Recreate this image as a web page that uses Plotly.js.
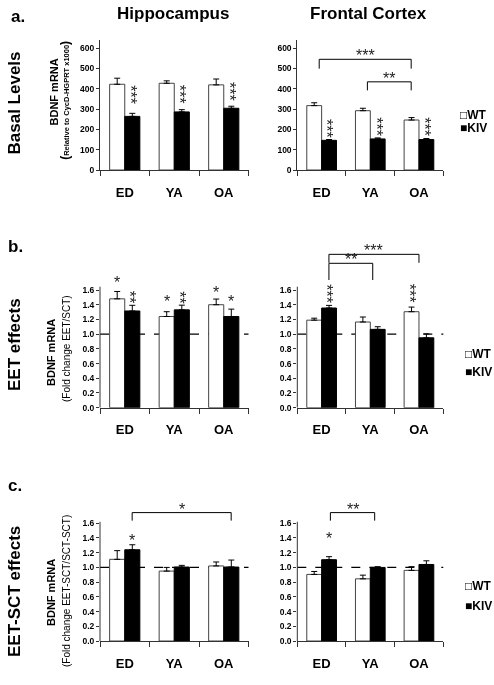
<!DOCTYPE html>
<html>
<head>
<meta charset="utf-8">
<script src="https://cdn.plot.ly/plotly-3.0.1.min.js"></script>
<style>html,body{margin:0;padding:0;background:#fff;}#chart{width:494px;height:685px;filter:grayscale(100%);}</style>
</head>
<body>
<div id="chart"></div>
<script>
// ---------- data ----------
const groups = ['ED', 'YA', 'OA'];
const seriesNames = ['WT', 'KIV'];

// a. Basal levels (relative to CycD-HGPRT x1000)
const hipBasalWT = [422, 427, 419];
const hipBasalWTErr = [30, 12, 29];
const hipBasalKIV = [264, 286, 304];
const hipBasalKIVErr = [15, 11, 10];
const fcBasalWT = [317, 292, 246];
const fcBasalWTErr = [14, 12, 12];
const fcBasalKIV = [146, 153, 150];
const fcBasalKIVErr = [4, 5, 5];

// b. EET effects (fold change EET/SCT)
const hipEetWT = [1.48, 1.24, 1.40];
const hipEetWTErr = [0.10, 0.065, 0.077];
const hipEetKIV = [1.315, 1.33, 1.24];
const hipEetKIVErr = [0.077, 0.064, 0.10];
const fcEetWT = [1.19, 1.165, 1.305];
const fcEetWTErr = [0.027, 0.068, 0.063];
const fcEetKIV = [1.355, 1.065, 0.95];
const fcEetKIVErr = [0.036, 0.036, 0.054];

// c. EET-SCT effects (fold change EET-SCT/SCT-SCT)
const hipDiffWT = [1.11, 0.95, 1.02];
const hipDiffWTErr = [0.118, 0.05, 0.054];
const hipDiffKIV = [1.24, 1.005, 1.005];
const hipDiffKIVErr = [0.068, 0.023, 0.095];
const fcDiffWT = [0.905, 0.845, 0.96];
const fcDiffWTErr = [0.04, 0.05, 0.05];
const fcDiffKIV = [1.105, 1.0, 1.04];
const fcDiffKIVErr = [0.041, 0.01, 0.05];

// significance stars: [group, series, label, y]
const hipBasalStars = [['ED','KIV','***',371], ['YA','KIV','***',371], ['OA','KIV','***',387]];
const fcBasalStars = [['ED','KIV','***',206], ['YA','KIV','***',212], ['OA','KIV','***',213]];
const hipEetStars = [['ED','WT','*',1.70], ['ED','KIV','**',1.505], ['YA','WT','*',1.44],
                     ['YA','KIV','**',1.505], ['OA','WT','*',1.565], ['OA','KIV','*',1.44]];
const fcEetStars = [['ED','KIV','***',1.555], ['OA','WT','***',1.555]];
const hipDiffStars = [['ED','KIV','*',1.36]];
const fcDiffStars = [['ED','KIV','*',1.395]];

// comparison brackets: [fromGroup, fromOffset, toGroup, toOffset, barY, fromDropY, toDropY, label]
const fcBasalBrackets = [['ED',-0.05,'OA',-0.16,545,499,499,'***'], ['YA',-0.06,'OA',-0.16,434,392,392,'**']];
const fcEetBrackets = [['ED',0.15,'OA',0.0,2.085,1.97,1.97,'***'], ['ED',0.15,'YA',0.05,1.963,1.736,1.736,'**']];
const hipDiffBrackets = [['ED',0.15,'OA',0.15,1.745,1.636,1.636,'*']];
const fcDiffBrackets = [['ED',0.18,'YA',0.09,1.745,1.636,1.636,'**']];

const basalTicks = [0, 100, 200, 300, 400, 500, 600];
const foldTicks = [0, 0.2, 0.4, 0.6, 0.8, 1.0, 1.2, 1.4, 1.6];

// ---------- layout helpers ----------
const W = 494, H = 685;
const px = v => v / W;
const py = v => 1 - v / H;
const FONT = 'Liberation Sans, Arial, Helvetica, sans-serif';
const BARGAP = 0.39;
const half = (1 - BARGAP) / 4; // centre offset of each bar within its group
const STAR = 16;

const panels = [
  {n:1, wt:hipBasalWT, wte:hipBasalWTErr, kv:hipBasalKIV, kve:hipBasalKIVErr, stars:hipBasalStars, br:[], x:[100,248.5], y:[170,40], range:[0,640], ticks:basalTicks, fmt:'d', ref:false, axTop:640},
  {n:2, wt:fcBasalWT, wte:fcBasalWTErr, kv:fcBasalKIV, kve:fcBasalKIVErr, stars:fcBasalStars, br:fcBasalBrackets, x:[297.3,443.3], y:[170,40], range:[0,640], ticks:basalTicks, fmt:'d', ref:false, axTop:640},
  {n:3, wt:hipEetWT, wte:hipEetWTErr, kv:hipEetKIV, kve:hipEetKIVErr, stars:hipEetStars, br:[], x:[100,248.5], y:[407.7,242.2], range:[0,2.25], ticks:foldTicks, fmt:'.1f', ref:true, axTop:1.645},
  {n:4, wt:fcEetWT, wte:fcEetWTErr, kv:fcEetKIV, kve:fcEetKIVErr, stars:fcEetStars, br:fcEetBrackets, x:[297.3,443.3], y:[407.7,242.2], range:[0,2.25], ticks:foldTicks, fmt:'.1f', ref:true, axTop:1.645},
  {n:5, wt:hipDiffWT, wte:hipDiffWTErr, kv:hipDiffKIV, kve:hipDiffKIVErr, stars:hipDiffStars, br:hipDiffBrackets, x:[100,248.5], y:[641,501.2], range:[0,1.9], ticks:foldTicks, fmt:'.1f', ref:true, axTop:1.62},
  {n:6, wt:fcDiffWT, wte:fcDiffWTErr, kv:fcDiffKIV, kve:fcDiffKIVErr, stars:fcDiffStars, br:fcDiffBrackets, x:[297.3,443.3], y:[641,501.2], range:[0,1.9], ticks:foldTicks, fmt:'.1f', ref:true, axTop:1.62}
];

const traces = [];
const shapes = [];
const annotations = [];
const layout = {
  width: W, height: H, autosize: false,
  margin: {l:0, r:0, t:0, b:0, pad:0},
  paper_bgcolor: '#ffffff', plot_bgcolor: 'rgba(0,0,0,0)',
  showlegend: false,
  barmode: 'group', bargap: BARGAP, bargroupgap: 0,
  font: {family: FONT, color: '#000'},
  shapes: shapes, annotations: annotations
};

const gi = g => groups.indexOf(g);

panels.forEach(p => {
  const xs = p.n === 1 ? 'x' : 'x' + p.n;
  const ys = p.n === 1 ? 'y' : 'y' + p.n;
  const xk = p.n === 1 ? 'xaxis' : 'xaxis' + p.n;
  const yk = p.n === 1 ? 'yaxis' : 'yaxis' + p.n;

  traces.push({
    type:'bar', name:seriesNames[0], x:groups, y:p.wt, xaxis:xs, yaxis:ys,
    marker:{color:'#ffffff', line:{color:'#444', width:1}},
    error_y:{type:'data', symmetric:false, array:p.wte, arrayminus:p.wte.map(() => 0), color:'#000', thickness:1, width:3},
    cliponaxis:false, hoverinfo:'x+y'
  });
  traces.push({
    type:'bar', name:seriesNames[1], x:groups, y:p.kv, xaxis:xs, yaxis:ys,
    marker:{color:'#000000', line:{color:'#000', width:1}},
    error_y:{type:'data', symmetric:false, array:p.kve, arrayminus:p.kve.map(() => 0), color:'#000', thickness:1, width:3},
    cliponaxis:false, hoverinfo:'x+y'
  });

  layout[xk] = {
    domain:[px(p.x[0]), px(p.x[1])], anchor:ys, type:'category',
    categoryorder:'array', categoryarray:groups, range:[-0.5, 2.5],
    showline:true, linecolor:'#333', linewidth:1, mirror:false,
    ticks:'outside', tickson:'boundaries', ticklen:5, tickcolor:'#333', tickwidth:1,
    tickfont:{size:13, family:FONT, weight:'bold', color:'#000'}, ticklabelstandoff:10,
    showgrid:false, zeroline:false, fixedrange:true
  };
  layout[yk] = {
    domain:[py(p.y[0]), py(p.y[1])], anchor:xs, range:p.range,
    tickmode:'array', tickvals:p.ticks, tickformat:p.fmt,
    showline:!p.ref, linecolor:'#333', linewidth:1,
    ticks:'outside', ticklen:3, tickcolor:'#333', tickwidth:1,
    tickfont:{size:8.5, family:FONT, weight:'bold', color:'#000'},
    showgrid:false, zeroline:false, fixedrange:true
  };

  if (p.ref) {
    // reference line at fold change 1.0
    shapes.push({type:'line', xref:xs + ' domain', yref:ys, x0:0, x1:1, y0:1, y1:1,
      line:{color:'#000', width:1.2, dash:'dash'}, layer:'below'});
    // y axis line (only up to the tick range)
    shapes.push({type:'line', xref:xs + ' domain', yref:ys, x0:0, x1:0, y0:0, y1:p.axTop,
      line:{color:'#333', width:1}, layer:'above'});
  }

  p.stars.forEach(s => {
    const off = s[1] === 'WT' ? -half : half;
    const rotated = s[2].length > 1;
    annotations.push({xref:xs, yref:ys, x:gi(s[0]) + off, y:s[3], text:s[2],
      textangle: rotated ? 90 : 0, xshift: rotated ? -2 : 0, showarrow:false, xanchor:'center', yanchor:'middle',
      font:{size:STAR, family:FONT, color:'#222'}});
  });

  p.br.forEach(b => {
    const x0 = gi(b[0]) + b[1], x1 = gi(b[2]) + b[3];
    const ln = {color:'#000', width:1};
    shapes.push({type:'line', xref:xs, yref:ys, x0:x0, x1:x1, y0:b[4], y1:b[4], line:ln});
    shapes.push({type:'line', xref:xs, yref:ys, x0:x0, x1:x0, y0:b[5], y1:b[4], line:ln});
    shapes.push({type:'line', xref:xs, yref:ys, x0:x1, x1:x1, y0:b[6], y1:b[4], line:ln});
    annotations.push({xref:xs, yref:ys, x:(x0 + x1) / 2, y:b[4], text:b[7], showarrow:false,
      xanchor:'center', yanchor:'bottom', yshift:-7, font:{size:STAR, family:FONT, color:'#222'}});
  });
});

// ---------- text labels ----------
function paperText(x, y, text, size, angle, extra) {
  annotations.push(Object.assign({xref:'paper', yref:'paper', x:px(x), y:py(y), text:text,
    textangle:angle || 0, showarrow:false, xanchor:'center', yanchor:'middle',
    font:{size:size, family:FONT, color:'#000', weight:'bold'}}, extra || {}));
}
paperText(17.5, 16, 'a.', 17);
paperText(15, 246, 'b.', 17);
paperText(14.5, 486, 'c.', 17);
paperText(172.5, 13, 'Hippocampus', 17);
paperText(368.8, 13, 'Frontal Cortex', 17);
paperText(13.5, 103, 'Basal Levels', 17, -90);
paperText(14, 345, 'EET effects', 17, -90);
paperText(14, 592, 'EET-SCT effects', 17, -90);

// y-axis titles
paperText(53, 92.5, 'BDNF mRNA', 11, -90);
paperText(65, 100.8, '<span style="font-size:12px">(</span>Relative to CycD-HGPRT x1000<span style="font-size:12px">)</span>', 7.5, -90);
paperText(51, 353, 'BDNF mRNA', 11, -90);
paperText(66, 349, '(Fold change EET/SCT)', 10, -90, {font:{size:10, family:FONT, color:'#000', weight:'normal'}});
paperText(51, 593, 'BDNF mRNA', 11, -90);
paperText(66, 591, '(Fold change EET-SCT/SCT-SCT)', 10, -90, {font:{size:10, family:FONT, color:'#000', weight:'normal'}});

// legends (one per row, as in the figure)
const legendRows = [[458, 115, 128], [463, 354, 371.7], [463, 586, 605.7]];
legendRows.forEach(r => {
  annotations.push({xref:'paper', yref:'paper', x:px(r[0]), y:py(r[1]), text:'\u25A1' + seriesNames[0],
    showarrow:false, xanchor:'left', yanchor:'middle', font:{size:12, family:FONT, weight:'bold', color:'#000'}});
  annotations.push({xref:'paper', yref:'paper', x:px(r[0]), y:py(r[2]), text:'\u25A0' + seriesNames[1],
    showarrow:false, xanchor:'left', yanchor:'middle', font:{size:12, family:FONT, weight:'bold', color:'#000'}});
});

Plotly.newPlot('chart', traces, layout, {staticPlot:true, displayModeBar:false});
</script>
</body>
</html>
